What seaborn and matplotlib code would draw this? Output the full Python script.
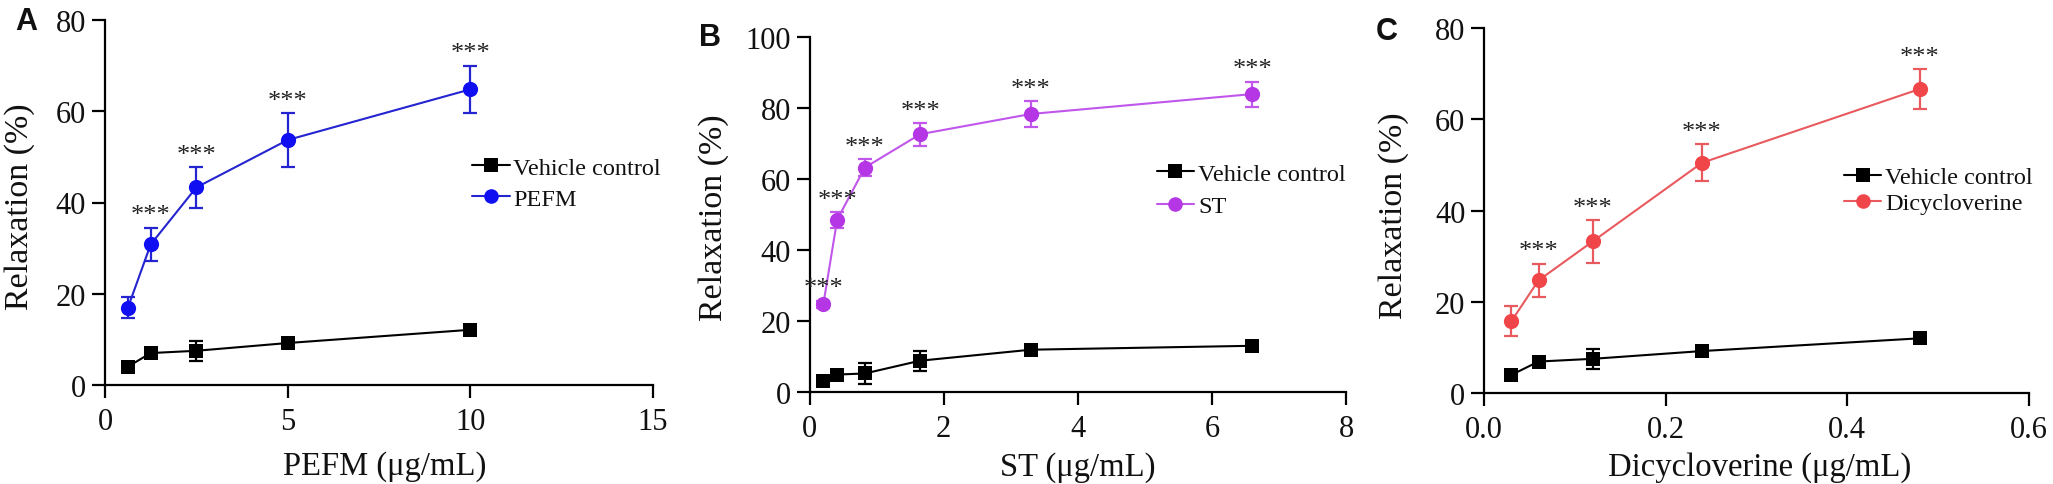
import matplotlib
matplotlib.use("Agg")
import matplotlib.pyplot as plt
import seaborn as sns
import pandas as pd
from matplotlib.lines import Line2D

# ---------------- data ----------------
# Panel A : PEFM
pefm_conc = [0.625, 1.25, 2.5, 5, 10]
pefm_mean = [16.9, 30.8, 43.3, 53.7, 64.8]
pefm_err = [2.3, 3.7, 4.4, 5.9, 5.2]
veh_a_mean = [4.0, 7.0, 7.5, 9.2, 12.1]
veh_a_err = [0.8, 1.0, 2.2, 1.0, 0.8]
pefm_sig = ["", "***", "***", "***", "***"]

# Panel B : ST
st_conc = [0.20625, 0.4125, 0.825, 1.65, 3.3, 6.6]
st_mean = [24.8, 48.6, 63.3, 72.7, 78.4, 84.0]
st_err = [1.0, 2.2, 2.4, 3.2, 3.6, 3.5]
veh_b_mean = [3.1, 5.0, 5.3, 8.9, 12.0, 13.1]
veh_b_err = [0.8, 0.8, 3.0, 2.8, 0.8, 0.8]
st_sig = ["***", "***", "***", "***", "***", "***"]

# Panel C : Dicycloverine
dicy_conc = [0.03, 0.06, 0.12, 0.24, 0.48]
dicy_mean = [15.7, 24.7, 33.3, 50.5, 66.7]
dicy_err = [3.3, 3.7, 4.7, 4.05, 4.3]
veh_c_mean = [3.95, 6.9, 7.5, 9.2, 12.0]
veh_c_err = [0.8, 0.8, 2.2, 0.8, 0.8]
dicy_sig = ["", "***", "***", "***", "***"]

vehicle_label = "Vehicle control"
treat_labels = ["PEFM", "ST", "Dicycloverine"]
x_labels = ["PEFM (μg/mL)", "ST (μg/mL)", "Dicycloverine (μg/mL)"]
y_label = "Relaxation (%)"
panel_letters = ["A", "B", "C"]
xticks_list = [[0, 5, 10, 15], [0, 2, 4, 6, 8], [0.0, 0.2, 0.4, 0.6]]
yticks_list = [[0, 20, 40, 60, 80], [0, 20, 40, 60, 80, 100], [0, 20, 40, 60, 80]]

# ---------------- style ----------------
sns.set_theme(style="ticks")
plt.rcParams["font.family"] = ["Liberation Serif", "DejaVu Serif"]

W, H = 2053, 485
fig = plt.figure(figsize=(W / 100, H / 100), dpi=100)
fig.patch.set_facecolor("white")

# axes boxes in pixels: left, right, top, bottom
boxes = [(105, 653, 21, 386), (809.5, 1346, 38.3, 393.3), (1484, 2029, 29.3, 394)]
treat_colors = ["#0f0ff2", "#b436e4", "#f0464a"]
line_colors = ["#2424d0", "#c056ea", "#e85a5e"]
legend_anchor = [(0.67, 0.553), (0.647, 0.570), (0.66, 0.556)]
legend_spacing = [0.38, 0.42, 0.18]
ylabel_coords = [(-0.128, 0.49), (-0.15, 0.494), (-0.138, 0.49)]
xlabel_coords = [(0.51, -0.18), (0.50, -0.165), (0.505, -0.16)]
letter_pos = [(26, 22.5), (710, 38), (1387, 32)]

panels = [
    (pefm_conc, veh_a_mean, veh_a_err, pefm_mean, pefm_err, pefm_sig),
    (st_conc, veh_b_mean, veh_b_err, st_mean, st_err, st_sig),
    (dicy_conc, veh_c_mean, veh_c_err, dicy_mean, dicy_err, dicy_sig),
]

for i, (conc, vmean, verr, tmean, terr, sig) in enumerate(panels):
    l, r, t, b = boxes[i]
    ax = fig.add_axes([l / W, 1 - b / H, (r - l) / W, (b - t) / H])
    ax.set_facecolor("white")
    tname = treat_labels[i]
    n = len(conc)
    df = pd.DataFrame({
        "conc": list(conc) + list(conc),
        "val": list(vmean) + list(tmean),
        "group": [vehicle_label] * n + [tname] * n,
    })
    pal = {vehicle_label: "black", tname: line_colors[i]}
    sns.lineplot(data=df, x="conc", y="val", hue="group", palette=pal,
                 linewidth=1.5, legend=False, ax=ax, sort=False, zorder=2)
    sns.scatterplot(data=df[df.group == vehicle_label], x="conc", y="val",
                    color="black", marker="s", s=95, linewidth=0, ax=ax,
                    legend=False, zorder=4)
    sns.scatterplot(data=df[df.group == tname], x="conc", y="val",
                    color=treat_colors[i], marker="o", s=120, linewidth=0,
                    ax=ax, legend=False, zorder=4)
    ax.errorbar(conc, vmean, yerr=verr, fmt="none", ecolor="black",
                elinewidth=1.6, capsize=5.2, capthick=1.6, zorder=3)
    ax.errorbar(conc, tmean, yerr=terr, fmt="none", ecolor=line_colors[i],
                elinewidth=1.6, capsize=5.2, capthick=1.6, zorder=3)
    for xv, yv, ev, s in zip(conc, tmean, terr, sig):
        if s:
            ax.annotate(s, (xv, yv + ev), xytext=(0, 4.5),
                        textcoords="offset points", ha="center",
                        va="baseline", fontsize=19, color="#222222")

    xt = xticks_list[i]
    yt = yticks_list[i]
    ax.set_xlim(xt[0], xt[-1])
    ax.set_ylim(yt[0], yt[-1])
    ax.set_xticks(xt)
    ax.set_yticks(yt)
    if i == 2:
        ax.set_xticklabels([f"{v:.1f}" for v in xt])
    else:
        ax.set_xticklabels([str(v) for v in xt])
    ax.set_yticklabels([str(v) for v in yt])
    for sp in ["top", "right"]:
        ax.spines[sp].set_visible(False)
    for sp in ["left", "bottom"]:
        ax.spines[sp].set_linewidth(1.6)
        ax.spines[sp].set_color("black")
    ax.tick_params(axis="both", direction="out", length=9.5, width=1.6,
                   colors="black", labelsize=22)
    ax.tick_params(axis="x", pad=6)
    ax.tick_params(axis="y", pad=4)
    for lab in ax.get_xticklabels() + ax.get_yticklabels():
        lab.set_color("#111111")

    ax.set_xlabel(x_labels[i], fontsize=23.5, color="#111111")
    ax.set_ylabel(y_label, fontsize=24.5, color="#111111")
    ax.xaxis.set_label_coords(*xlabel_coords[i])
    ax.yaxis.set_label_coords(*ylabel_coords[i])

    handles = [
        Line2D([], [], color="black", marker="s", markersize=9.5,
               markeredgewidth=0, linewidth=1.5),
        Line2D([], [], color=line_colors[i], marker="o", markersize=10.5,
               markerfacecolor=treat_colors[i], markeredgewidth=0,
               linewidth=1.5),
    ]
    leg = ax.legend(handles, [vehicle_label, tname], loc="center left",
                    bbox_to_anchor=legend_anchor[i], frameon=False,
                    fontsize=17.5, handlelength=1.55, handletextpad=0.15,
                    labelspacing=legend_spacing[i], borderpad=0,
                    borderaxespad=0)
    for txt in leg.get_texts():
        txt.set_color("#111111")

    lx, ly = letter_pos[i]
    fig.text(lx / W, 1 - ly / H, panel_letters[i], ha="center", va="center",
             fontsize=22, fontweight="bold",
             family=["Liberation Sans", "DejaVu Sans"], color="#111111")

fig.savefig("out.png", dpi=100, facecolor="white")
